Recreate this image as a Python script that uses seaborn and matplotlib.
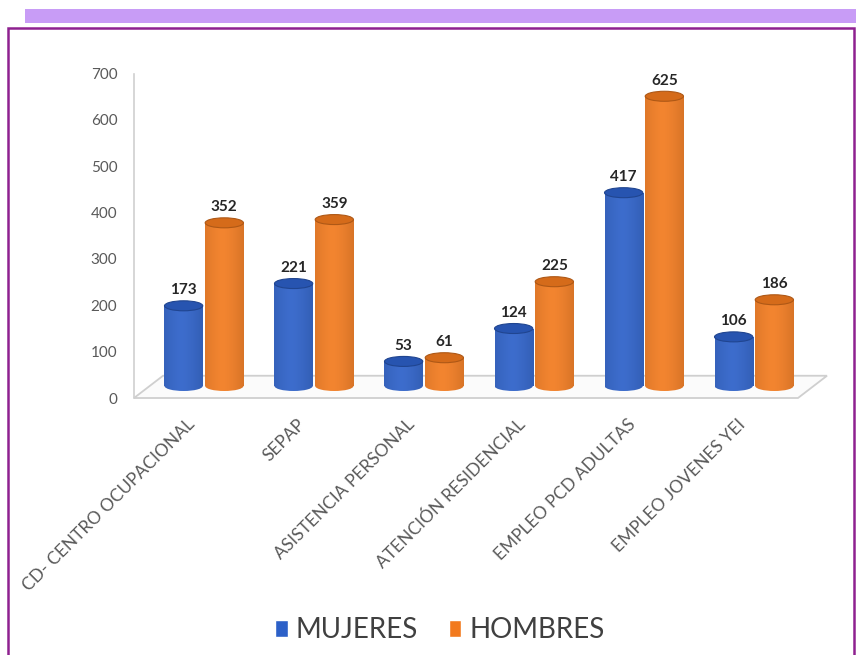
import numpy as np
import pandas as pd
import matplotlib
matplotlib.use("Agg")
import matplotlib.pyplot as plt
import seaborn as sns
from matplotlib.patches import Ellipse, Polygon, Rectangle, Patch
from matplotlib.transforms import ScaledTranslation
from matplotlib.colors import to_rgb

# datos
categorias = ["CD- CENTRO OCUPACIONAL", "SEPAP", "ASISTENCIA PERSONAL",
              "ATENCIÓN RESIDENCIAL", "EMPLEO PCD ADULTAS", "EMPLEO JOVENES YEI"]
mujeres = [173, 221, 53, 124, 417, 106]
hombres = [352, 359, 61, 225, 625, 186]
series = ["MUJERES", "HOMBRES"]
colores = ["#2C60C8", "#F27A1E"]
yticks = [0, 100, 200, 300, 400, 500, 600, 700]

df = pd.DataFrame({
    "categoria": categorias * 2,
    "serie": [series[0]] * len(categorias) + [series[1]] * len(categorias),
    "valor": mujeres + hombres,
})

sns.set_theme(style="white")
plt.rcParams["font.family"] = ["Lato", "DejaVu Sans"]

W, H = 856, 655
fig = plt.figure(figsize=(W / 100, H / 100), dpi=100)
fig.patch.set_facecolor("white")

# marco morado y banda superior
fig.patches.append(Rectangle((25 / W, 1 - 23 / H), 1, 14 / H, transform=fig.transFigure,
                             facecolor="#C89CF6", edgecolor="none", zorder=0))
fig.patches.append(Rectangle((8 / W, -0.05), (854 - 8) / W, 1.05 - 28 / H,
                             transform=fig.transFigure, fill=False,
                             edgecolor="#8E2190", linewidth=1.8, zorder=0))

ax = fig.add_axes([134 / W, (H - 398) / H, 664 / W, 324.5 / H])
sns.barplot(data=df, x="categoria", y="valor", hue="serie", palette=colores,
            width=0.74, gap=0.06, ax=ax, legend=False, saturation=1)

ax.set_xlim(-0.636, 5.4)
ax.set_ylim(0, 700)
ax.set_yticks(yticks)
ax.set_xlabel("")
ax.set_ylabel("")
for s in ["top", "right", "bottom"]:
    ax.spines[s].set_visible(False)
ax.spines["left"].set_color("#D0D0D0")
ax.spines["left"].set_linewidth(1.2)
ax.tick_params(axis="y", length=0, pad=12, labelsize=11, labelcolor="#595959")
ax.tick_params(axis="x", length=0, pad=13, labelsize=12.5, labelcolor="#595959")
ax.patch.set_alpha(0)

for lab in ax.get_xticklabels():
    lab.set_rotation(45)
    lab.set_ha("right")
    lab.set_va("top")
    lab.set_rotation_mode("anchor")
    lab.set_transform(lab.get_transform() + ScaledTranslation(-0.17, 0, fig.dpi_scale_trans))

# suelo 3D
px_y = 324.5 / 700
fondo = 48
dx = 29 / 110
suelo = Polygon([(-0.636, 0), (5.4, 0), (5.4 + dx, fondo), (-0.636 + dx, fondo)],
                closed=True, facecolor="#FBFBFB", edgecolor="#CFCFCF", linewidth=1.3,
                zorder=0.5, clip_on=False)
ax.add_patch(suelo)

# cilindros
tr = ax.transData + ScaledTranslation(0, 0.12, fig.dpi_scale_trans)
eh = 10 / px_y
t = np.linspace(0, 1, 80)
shade = 1 - 0.8 * np.abs(t - 0.45) ** 1.5


def gradiente(base):
    c = np.array(to_rgb(base))
    light = c + (1 - c) * 0.08
    dark = c * 0.66
    img = dark[None, :] + (light - dark)[None, :] * shade[:, None]
    return np.clip(img[None, :, :].repeat(2, axis=0), 0, 1)


barras = [b for b in ax.patches if isinstance(b, Rectangle)]
valores = mujeres + hombres
for b, val in zip(barras, valores):
    x0, w, h = b.get_x(), b.get_width(), b.get_height()
    cx = x0 + w / 2
    base = b.get_facecolor()
    b.set_transform(tr)
    b.set_facecolor("none")
    b.set_edgecolor("none")
    img = gradiente(base)
    im = ax.imshow(img, extent=[x0, x0 + w, 0, h], aspect="auto",
                   interpolation="bilinear", zorder=2)
    im.set_transform(tr)
    im.set_clip_path(b)
    fondo_el = Ellipse((cx, 0), w, eh, transform=tr, facecolor="none", edgecolor="none")
    ax.add_patch(fondo_el)
    im2 = ax.imshow(img, extent=[x0, x0 + w, -eh, eh], aspect="auto",
                    interpolation="bilinear", zorder=1.9)
    im2.set_transform(tr)
    im2.set_clip_path(fondo_el)
    c = np.array(to_rgb(base))
    tapa = Ellipse((cx, h), w, eh, transform=tr, facecolor=c * 0.88,
                   edgecolor=c * 0.72, linewidth=0.8, zorder=3)
    ax.add_patch(tapa)
    ax.text(cx, h + eh / 2 + 8, f"{val}", transform=tr, ha="center", va="bottom",
            fontsize=11, fontweight="bold", color="#262626", zorder=4)

ax.set_xlim(-0.636, 5.4)
ax.set_ylim(0, 700)

handles = [Patch(facecolor=colores[0], label=series[0]),
           Patch(facecolor=colores[1], label=series[1])]
leg = fig.legend(handles=handles, loc="center", bbox_to_anchor=(0.514, 25 / H), ncol=2,
                 frameon=False, fontsize=20, handlelength=0.45, handleheight=0.55,
                 handletextpad=0.3, columnspacing=1.1)
for txt in leg.get_texts():
    txt.set_color("#404040")

fig.savefig("out.png", dpi=100, facecolor="white")
